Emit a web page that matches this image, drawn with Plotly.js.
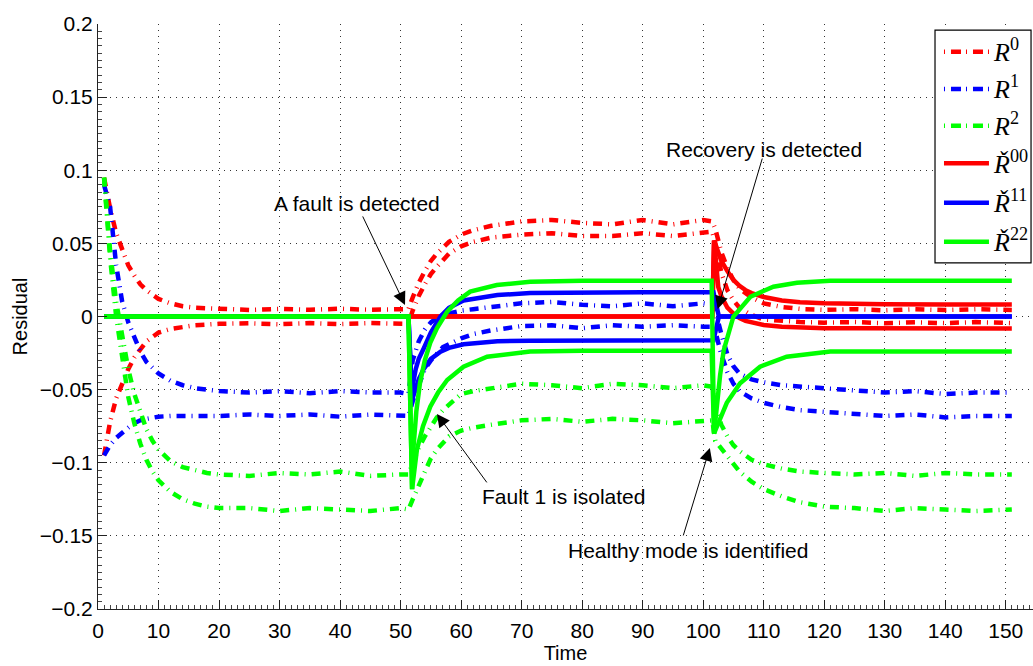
<!DOCTYPE html>
<html>
<head>
<meta charset="utf-8">
<script src="https://cdn.plot.ly/plotly-3.0.1.min.js"></script>
<style>html,body{margin:0;padding:0;background:#fff;}</style>
</head>
<body>
<div id="chart" style="width:1033px;height:666px;"></div>
<script>
// ---- data ----
const tDash = [1,2,3,4,5,6,7,8,9,10, 12,14,16,18,20, 25,30,35,40,45,50, 51.3,
  52,53,54,55,56,57,58, 60,62,65, 70,75,80,85,90,95,100, 101.5,
  102,103,104,105,106, 108,110,113,116,120, 125,130,135,140,145, 151];

const r0Upper = [0.095,0.074,0.057,0.045,0.035,0.028,0.022,0.018,0.015,0.012,
  0.009,0.007,0.006,0.0055,0.005, 0.0045,0.0052,0.0046,0.0053,0.0046,0.005, 0.005,
  0.013,0.023,0.031,0.038,0.043,0.047,0.051, 0.056,0.059,0.062,
  0.065,0.066,0.064,0.063,0.066,0.063,0.066, 0.065,
  0.06,0.044,0.033,0.025,0.019, 0.013,0.009,0.0065,0.0052,0.0045,
  0.005,0.0042,0.005,0.0044,0.005, 0.0045];
const r0Lower = [-0.095,-0.072,-0.056,-0.045,-0.036,-0.028,-0.022,-0.017,-0.014,-0.011,
  -0.0085,-0.007,-0.006,-0.0055,-0.005, -0.0046,-0.0053,-0.0045,-0.0052,-0.0045,-0.005, -0.005,
  0.004,0.014,0.022,0.029,0.034,0.039,0.043, 0.048,0.051,0.054,
  0.056,0.057,0.055,0.055,0.057,0.055,0.057, 0.058,
  0.05,0.03,0.018,0.011,0.006, 0.001,-0.002,-0.003,-0.0038,-0.0042,
  -0.0038,-0.0046,-0.004,-0.0045,-0.0038, -0.0045];

const r1Upper = [0.09,0.075,0.035,0.01,-0.004,-0.015,-0.024,-0.031,-0.035,-0.039,
  -0.044,-0.047,-0.049,-0.05,-0.051, -0.052,-0.051,-0.0525,-0.051,-0.052,-0.052, -0.053,
  -0.03,-0.017,-0.009,-0.004,-0.001,0.001,0.002, 0.004,0.005,0.0065,
  0.009,0.01,0.008,0.007,0.009,0.007,0.009, 0.008,
  0.004,-0.012,-0.026,-0.034,-0.039, -0.043,-0.045,-0.047,-0.048,-0.049,
  -0.051,-0.052,-0.051,-0.053,-0.052, -0.052];
const r1Lower = [-0.095,-0.088,-0.083,-0.079,-0.076,-0.073,-0.071,-0.07,-0.069,-0.0685,
  -0.068,-0.068,-0.0675,-0.068,-0.068, -0.067,-0.068,-0.067,-0.0685,-0.067,-0.068, -0.068,
  -0.058,-0.046,-0.036,-0.03,-0.025,-0.021,-0.019, -0.015,-0.012,-0.0095,
  -0.0065,-0.006,-0.008,-0.006,-0.007,-0.006,-0.007, -0.007,
  -0.01,-0.026,-0.038,-0.046,-0.051, -0.056,-0.059,-0.062,-0.064,-0.065,
  -0.067,-0.068,-0.067,-0.069,-0.068, -0.068];

const r2Upper = [0.095,0.045,0.01,-0.015,-0.036,-0.053,-0.066,-0.077,-0.085,-0.091,
  -0.099,-0.103,-0.105,-0.107,-0.108, -0.109,-0.107,-0.108,-0.106,-0.109,-0.108, -0.108,
  -0.1,-0.09,-0.082,-0.075,-0.069,-0.064,-0.06, -0.053,-0.051,-0.049,
  -0.046,-0.047,-0.049,-0.046,-0.047,-0.049,-0.047, -0.048,
  -0.062,-0.074,-0.082,-0.088,-0.092, -0.098,-0.101,-0.104,-0.106,-0.107,
  -0.108,-0.107,-0.109,-0.107,-0.108, -0.108];
const r2Lower = [0.095,0.04,0.0,-0.03,-0.055,-0.073,-0.087,-0.098,-0.106,-0.112,
  -0.12,-0.125,-0.128,-0.13,-0.131, -0.131,-0.133,-0.131,-0.132,-0.133,-0.131, -0.132,
  -0.125,-0.115,-0.105,-0.097,-0.091,-0.086,-0.082, -0.078,-0.076,-0.074,
  -0.071,-0.07,-0.072,-0.07,-0.071,-0.073,-0.071, -0.071,
  -0.085,-0.09,-0.096,-0.101,-0.106, -0.113,-0.118,-0.123,-0.127,-0.13,
  -0.131,-0.133,-0.131,-0.132,-0.133, -0.132];

const t00 = [1,101.5,101.8,102.5,103,104,105,106,107,108,110,113,116,120,125,130,140,151];
const c00Upper = [0,0,0.052,0.043,0.038,0.031,0.025,0.021,0.018,0.016,0.0133,0.011,0.0098,0.009,0.0085,0.0083,0.0082,0.0082];
const c00Lower = [0,0,0.052,0.02,0.014,0.006,0.002,-0.001,-0.003,-0.004,-0.0058,-0.007,-0.0077,-0.008,-0.0081,-0.0082,-0.0082,-0.0082];

const t11 = [1,51.3,51.9,52.1,52.5,53,53.8,55,56.6,58,60.4,63,66,71.4,80,90,101.7,102.6,151];
const c11Upper = [0,0,-0.057,-0.045,-0.036,-0.029,-0.022,-0.011,0,0.006,0.011,0.013,0.0147,0.016,0.0165,0.0165,0.0165,0,0];
const c11Lower = [0,0,-0.057,-0.054,-0.049,-0.043,-0.036,-0.029,-0.024,-0.0215,-0.019,-0.0178,-0.017,-0.0165,-0.0163,-0.0163,-0.0163,0,0];

const t22Upper = [1,51.3,51.9,52.1,52.6,53.2,54,54.9,56,57.7,59.5,61.5,65.9,71.4,80,101.4,101.8,102.3,102.8,103.4,105,107.8,111.6,115.5,121,151];
const c22Upper = [0,0,-0.118,-0.091,-0.065,-0.0456,-0.03,-0.018,-0.008,0.0033,0.011,0.017,0.0215,0.0238,0.0245,0.0245,-0.08,-0.057,-0.04,-0.023,0,0.0135,0.0204,0.0231,0.0245,0.0245];
const t22Lower = [1,51.3,51.9,52.7,53.7,54.9,56.2,57.7,60.4,64.3,71.4,80,101.4,101.8,102.5,103.9,106.1,109.4,113.8,121,151];
const c22Lower = [0,0,-0.118,-0.091,-0.075,-0.0617,-0.052,-0.0434,-0.0343,-0.0275,-0.024,-0.0235,-0.0235,-0.08,-0.073,-0.059,-0.0457,-0.0343,-0.0275,-0.024,-0.024];

const legendNames = ['<i>R</i><sup>0</sup>','<i>R</i><sup>1</sup>','<i>R</i><sup>2</sup>',
  '<i>Ř</i><sup>00</sup>','<i>Ř</i><sup>11</sup>','<i>Ř</i><sup>22</sup>'];

const xTickVals = [0,10,20,30,40,50,60,70,80,90,100,110,120,130,140,150];
const yTickVals = [-0.2,-0.15,-0.1,-0.05,0,0.05,0.1,0.15,0.2];
const yTickText = ['\u22120.2','\u22120.15','\u22120.1','\u22120.05','0','0.05','0.1','0.15','0.2'];

const notes = [
  {text:'A fault is detected', tx:42.8, ty:0.0776, x:50.73, y:0.0079, ax:-43, ay:-90},
  {text:'Recovery is detected', tx:110.0, ty:0.1145, x:102.4, y:0.0051, ax:45, ay:-152},
  {text:'Fault 1 is isolated', tx:77.0, ty:-0.1234, x:56.0, y:-0.0666, ax:51, ay:70},
  {text:'Healthy mode is identified', tx:97.5, ty:-0.1602, x:101.1, y:-0.0899, ax:-27, ay:89}
];

// ---- styling ----
const RED = '#ff0000', BLUE = '#0000ff', GREEN = '#00ff00';
const COLORS = [RED, BLUE, GREEN, RED, BLUE, GREEN];
const DASHDOT = '9px,6px,1px,6px';
const LEG_DASH = '1px,6px,10px,5px';
const LW = 4.5;

function tr(x, y, color, dash, idx) {
  return {
    x: x, y: y, type: 'scatter', mode: 'lines',
    line: {color: color, width: LW, dash: dash},
    name: legendNames[idx], legendgroup: 'g' + idx, showlegend: false,
    hoverinfo: 'skip'
  };
}

const data = [
  tr(tDash, r0Upper, RED, DASHDOT, 0),
  tr(tDash, r0Lower, RED, DASHDOT, 0),
  tr(tDash, r1Upper, BLUE, DASHDOT, 1),
  tr(tDash, r1Lower, BLUE, DASHDOT, 1),
  tr(tDash, r2Upper, GREEN, DASHDOT, 2),
  tr(tDash, r2Lower, GREEN, DASHDOT, 2),
  tr(t00, c00Upper, RED, 'solid', 3),
  tr(t00, c00Lower, RED, 'solid', 3),
  tr(t11, c11Upper, BLUE, 'solid', 4),
  tr(t11, c11Lower, BLUE, 'solid', 4),
  tr(t22Upper, c22Upper, GREEN, 'solid', 5),
  tr(t22Lower, c22Lower, GREEN, 'solid', 5)
];

const FONT = 'Liberation Sans, Arial, Helvetica, sans-serif';
const SERIF = 'Liberation Serif, Times New Roman, serif';
const annotations = [];
notes.forEach(n => {
  annotations.push({x: n.tx, y: n.ty, xref: 'x', yref: 'y', text: n.text, showarrow: false,
    font: {family: FONT, size: 21, color: '#000'}});
  annotations.push({x: n.x, y: n.y, xref: 'x', yref: 'y', text: '', showarrow: true,
    ax: n.ax, ay: n.ay, arrowhead: 2, arrowsize: 2.6, arrowwidth: 1, arrowcolor: '#000', standoff: 0});
});

// ---- legend box drawn in paper coordinates ----
const shapes = [{type: 'rect', xref: 'paper', yref: 'paper', x0: 0.8952, x1: 0.9979, y0: 0.5915, y1: 0.9897,
  line: {color: '#000', width: 1.2}, fillcolor: '#fff', layer: 'above'}];
const legRowY = [0.9527, 0.8889, 0.8262, 0.7619, 0.6945, 0.6279];
legRowY.forEach((yy, i) => {
  shapes.push({type: 'line', xref: 'paper', yref: 'paper', x0: 0.9048, x1: 0.9529, y0: yy, y1: yy,
    line: {color: COLORS[i], width: LW, dash: i < 3 ? LEG_DASH : 'solid'}, layer: 'above'});
  annotations.push({xref: 'paper', yref: 'paper', x: 0.9561, y: yy + 0.002, xanchor: 'left', yanchor: 'middle',
    text: legendNames[i], showarrow: false, borderpad: 0,
    font: {family: SERIF, size: 26, color: '#000'}});
});

const axisCommon = {
  showline: true, linecolor: '#222', linewidth: 1, mirror: false,
  ticks: 'inside', ticklen: 9, tickcolor: '#222', tickwidth: 1,
  showgrid: true, gridcolor: '#333', gridwidth: 1, griddash: '1px,5px',
  zeroline: false, tickfont: {family: FONT, size: 21, color: '#000'}
};

const layout = {
  width: 1033, height: 666,
  margin: {l: 98, r: 0, t: 24, b: 57, autoexpand: false},
  paper_bgcolor: '#fff', plot_bgcolor: '#fff',
  showlegend: false,
  xaxis: Object.assign({}, axisCommon, {
    range: [0, 154.5], tickvals: xTickVals, ticklabelstandoff: 3,
    minor: {dtick: 1, ticks: 'inside', ticklen: 4, tickcolor: '#444', showgrid: false},
    title: {text: 'Time', font: {family: FONT, size: 20, color: '#000'}, standoff: 0},
    automargin: false
  }),
  yaxis: Object.assign({}, axisCommon, {
    range: [-0.2, 0.2], tickvals: yTickVals, ticktext: yTickText, ticklabelstandoff: 0,
    minor: {dtick: 0.005, ticks: 'inside', ticklen: 4, tickcolor: '#444', showgrid: false},
    title: {text: 'Residual', font: {family: FONT, size: 20, color: '#000'}, standoff: 6},
    automargin: false
  }),
  shapes: shapes,
  annotations: annotations
};

Plotly.newPlot('chart', data, layout, {staticPlot: true, displayModeBar: false});
</script>
</body>
</html>
